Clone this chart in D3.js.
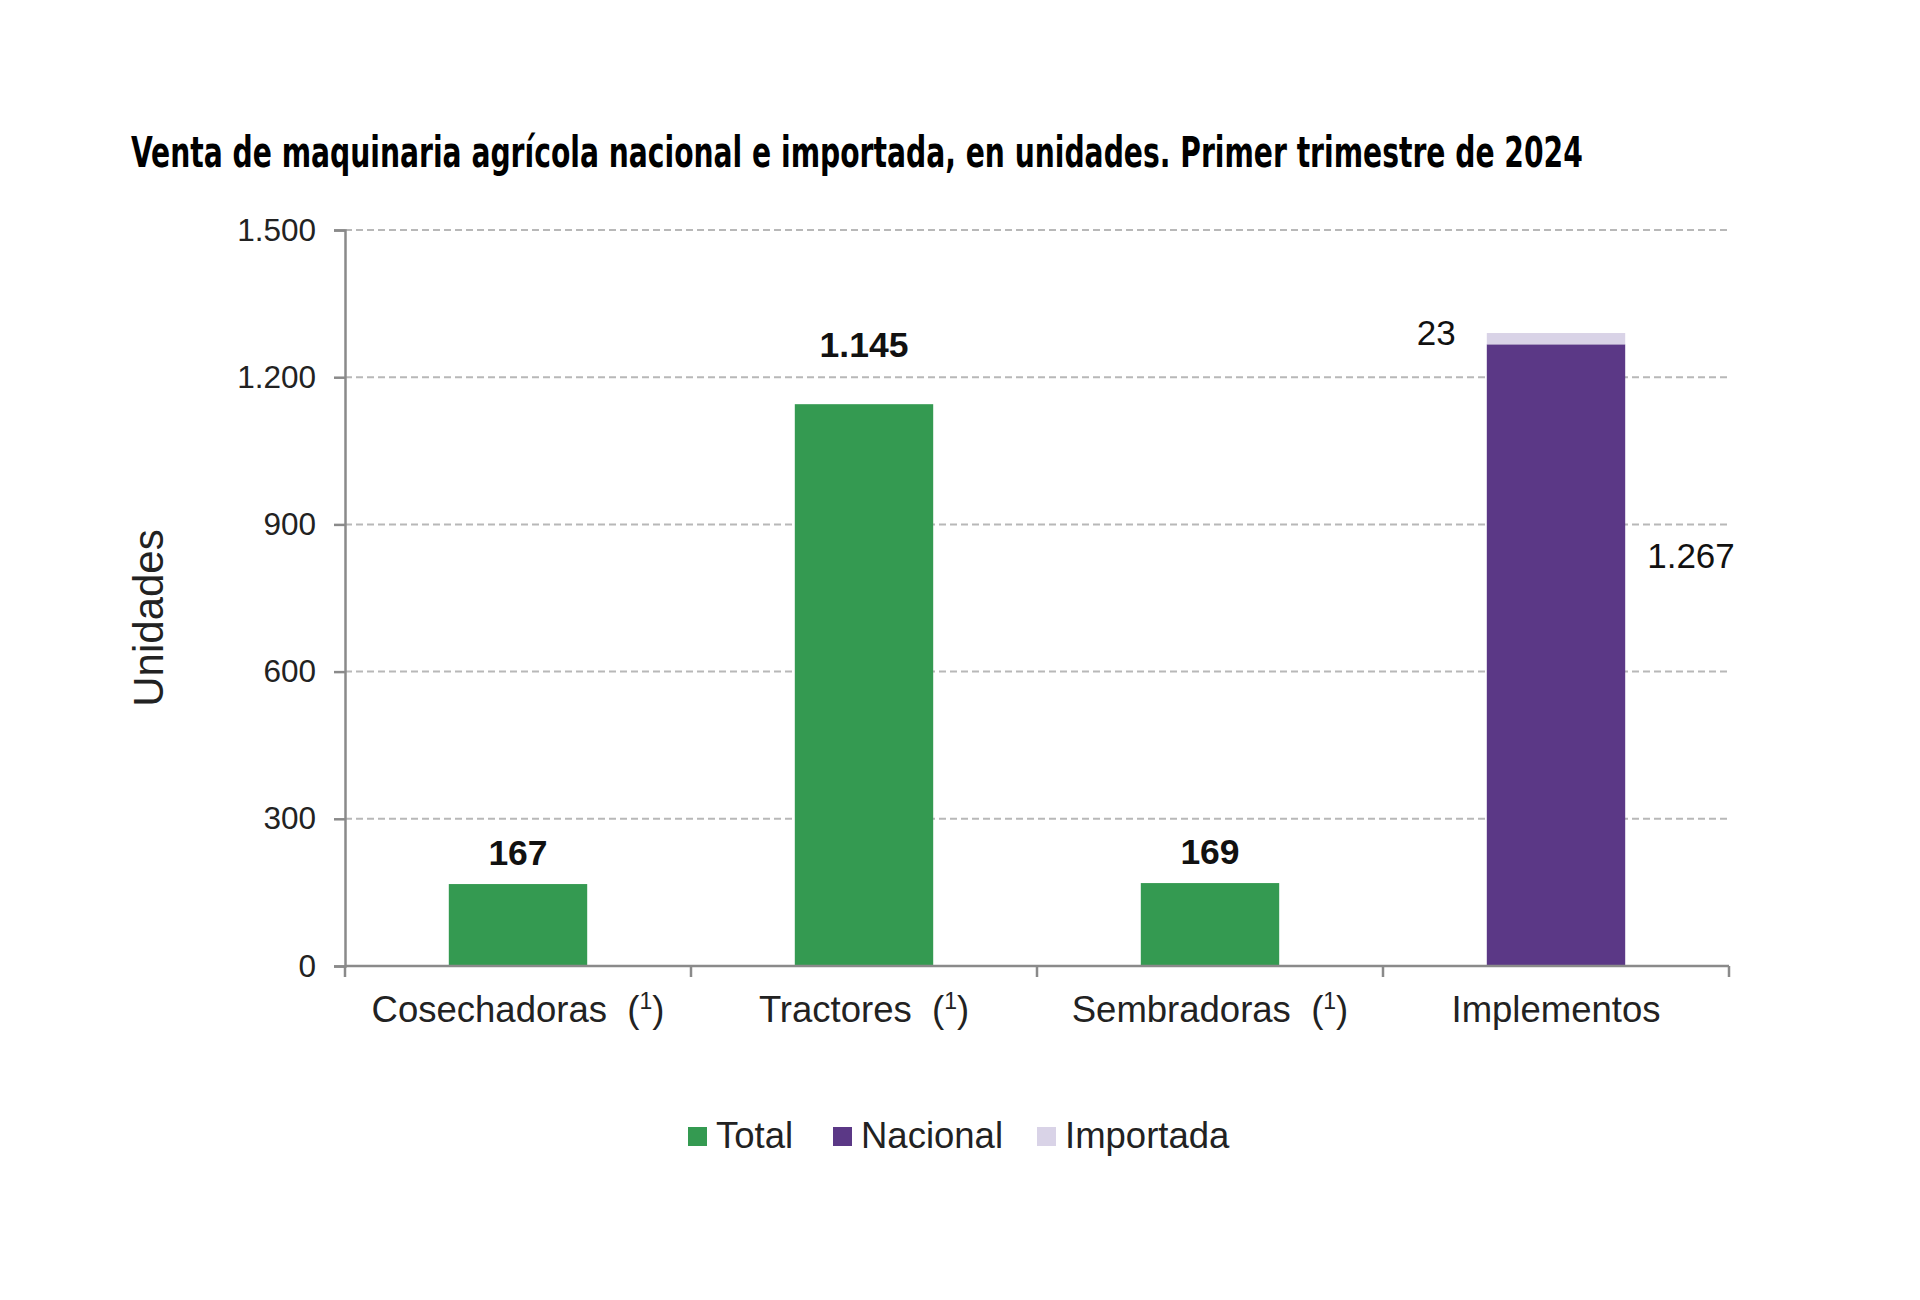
<!DOCTYPE html>
<html><head><meta charset="utf-8">
<script src="https://cdn.jsdelivr.net/npm/d3@7/dist/d3.min.js"></script>
<style>
html,body{margin:0;padding:0;background:#fff;}
svg{display:block;font-family:"Liberation Sans",Arial,sans-serif;}
</style></head>
<body><svg id="c" width="1920" height="1300"></svg>
<script>
const categories = ["Cosechadoras", "Tractores", "Sembradoras", "Implementos"];
const footnote = ["1", "1", "1", ""];
const total = [167, 1145, 169, null];
const nacional = [null, null, null, 1267];
const importada = [null, null, null, 23];
const yTicks = [0, 300, 600, 900, 1200, 1500];
const legendLabels = ["Total", "Nacional", "Importada"];
const colors = {Total: "#349a51", Nacional: "#5b3886", Importada: "#d9d3e7"};
const titleText = "Venta de maquinaria agrícola nacional e importada, en unidades. Primer trimestre de 2024";

const svg = d3.select("#c");
const m = {left: 345, right: 1729, top: 230, bottom: 966};
const fmt = v => d3.format(",")(v).replace(/,/g, ".");

const x = d3.scaleBand().domain(categories).range([m.left, m.right]).paddingInner(0.6).paddingOuter(0.3);
const xb = d3.scaleBand().domain(categories).range([m.left, m.right]);
const y = d3.scaleLinear().domain([0, 1500]).range([m.bottom, m.top]);

// Title (condensed by horizontal scaling to the reference width)
const tg = svg.append("g");
const tt = tg.append("text").attr("x", 0).attr("y", 0)
  .attr("font-family", "'Liberation Sans Narrow','DejaVu Sans Condensed',Arial,sans-serif")
  .attr("font-weight", "bold").attr("font-size", 42).attr("fill", "#000")
  .text(titleText);
const tw = tt.node().getComputedTextLength();
tg.attr("transform", `translate(131,167) scale(${1452 / tw},1)`);

// Gridlines
svg.append("g").selectAll("line").data(yTicks.filter(t => t > 0)).join("line")
  .attr("x1", m.left).attr("x2", m.right)
  .attr("y1", d => y(d)).attr("y2", d => y(d))
  .attr("stroke", "#b8b8b8").attr("stroke-width", 2).attr("stroke-dasharray", "7,4");

// Y axis
const yAxis = d3.axisLeft(y).tickValues(yTicks).tickSize(11).tickPadding(18).tickFormat(fmt);
const gy = svg.append("g").attr("transform", `translate(${m.left},0)`).call(yAxis);
gy.select(".domain").attr("stroke", "#8a8a8a").attr("stroke-width", 2.5);
gy.selectAll(".tick line").attr("stroke", "#8a8a8a").attr("stroke-width", 2.5);
gy.selectAll(".tick text").attr("font-size", 31.5).attr("fill", "#222")
  .attr("font-family", "'Liberation Sans',Arial,sans-serif");

// Bars - Total
svg.append("g").selectAll("rect").data(categories.map((c, i) => ({c, v: total[i]})).filter(d => d.v != null))
  .join("rect")
  .attr("x", d => x(d.c)).attr("width", x.bandwidth())
  .attr("y", d => y(d.v)).attr("height", d => y(0) - y(d.v))
  .attr("fill", colors.Total);

// Stacked bars - Nacional + Importada
const stackData = categories.map((c, i) => ({c, Nacional: nacional[i] || 0, Importada: importada[i] || 0}))
  .filter((d, i) => nacional[i] != null);
const stack = d3.stack().keys(["Nacional", "Importada"])(stackData);
svg.append("g").selectAll("g").data(stack).join("g").attr("fill", s => colors[s.key])
  .selectAll("rect").data(s => s).join("rect")
  .attr("x", d => x(d.data.c)).attr("width", x.bandwidth())
  .attr("y", d => y(d[1])).attr("height", d => y(d[0]) - y(d[1]));

// X axis
const xAxisLine = svg.append("g");
xAxisLine.append("line").attr("x1", m.left).attr("x2", m.right).attr("y1", m.bottom).attr("y2", m.bottom)
  .attr("stroke", "#8a8a8a").attr("stroke-width", 2.5);
const bounds = categories.map(c => xb(c)).concat([m.right]);
xAxisLine.selectAll(".xt").data(bounds).join("line").attr("class", "xt")
  .attr("x1", d => d).attr("x2", d => d).attr("y1", m.bottom).attr("y2", m.bottom + 11)
  .attr("stroke", "#8a8a8a").attr("stroke-width", 2.5);

// Category labels
const cl = svg.append("g").selectAll("text").data(categories.map((c, i) => ({c, f: footnote[i]}))).join("text")
  .attr("x", d => xb(d.c) + xb.bandwidth() / 2).attr("y", 1022)
  .attr("text-anchor", "middle").attr("font-size", 36.5).attr("fill", "#222");
cl.each(function(d) {
  const t = d3.select(this);
  if (d.f) {
    t.append("tspan").text(d.c + "\u00a0\u00a0(");
    t.append("tspan").attr("font-size", 23).attr("dy", -13).text(d.f);
    t.append("tspan").attr("dy", 13).text(")");
  } else {
    t.text(d.c);
  }
});

// Value labels for totals
svg.append("g").selectAll("text").data(categories.map((c, i) => ({c, v: total[i]})).filter(d => d.v != null))
  .join("text")
  .attr("x", d => x(d.c) + x.bandwidth() / 2)
  .attr("y", d => y(d.v) - (d.c === "Tractores" ? 47 : 19))
  .attr("text-anchor", "middle").attr("font-weight", "bold").attr("font-size", 35.5).attr("fill", "#111")
  .text(d => fmt(d.v));

// Labels for stacked bar
stackData.forEach(d => {
  const tot = d.Nacional + d.Importada;
  svg.append("text").attr("x", x(d.c) - 31).attr("y", y(tot) + 12)
    .attr("text-anchor", "end").attr("font-size", 35).attr("fill", "#111").text(fmt(d.Importada));
  svg.append("text").attr("x", x(d.c) + x.bandwidth() + 22).attr("y", y(d.Nacional * 0.66) + 12)
    .attr("text-anchor", "start").attr("font-size", 35).attr("fill", "#111").text(fmt(d.Nacional));
});

// Y axis title
svg.append("text").attr("transform", "translate(163,618) rotate(-90)")
  .attr("text-anchor", "middle").attr("font-size", 42).attr("fill", "#222").text("Unidades");

// Legend
const legPos = [688, 833, 1037];
const lg = svg.append("g").selectAll("g").data(legendLabels).join("g")
  .attr("transform", (d, i) => `translate(${legPos[i]},1136)`);
lg.append("rect").attr("x", 0).attr("y", -9).attr("width", 19).attr("height", 19).attr("fill", d => colors[d]);
lg.append("text").attr("x", 28).attr("y", 12).attr("font-size", 36.5).attr("fill", "#222").text(d => d);
</script></body></html>
